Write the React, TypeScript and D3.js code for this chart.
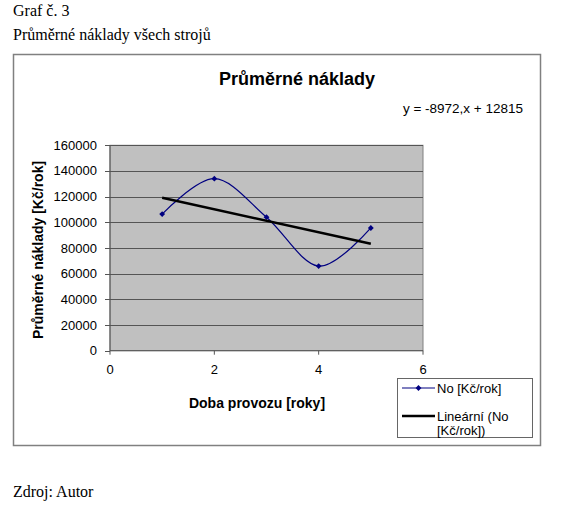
import * as React from 'react'
import * as d3 from 'd3'

// data
const years = [1, 2, 3, 4, 5];
const costs = [106400, 134000, 104000, 65900, 95600];
const yTicks = [0, 20000, 40000, 60000, 80000, 100000, 120000, 140000, 160000];
const xTicks = [0, 2, 4, 6];
const equationLabel = 'y = -8972,x + 12815';
const seriesName = 'No [Kč/rok]';
const trendNameLines = ['Lineární (No', '[Kč/rok])'];

const SANS = '"Liberation Sans", Arial, sans-serif';
const SERIF = '"Liberation Serif", "Times New Roman", serif';

const plot = { left: 110, right: 423, top: 145.3, bottom: 350.7 };

const App: React.FC = () => {
  const x = d3.scaleLinear().domain([0, 6]).range([plot.left, plot.right]);
  const y = d3.scaleLinear().domain([0, 160000]).range([plot.bottom, plot.top]);

  const pts: [number, number][] = years.map((yr, i) => [yr, costs[i]]);

  const line = d3.line<[number, number]>()
    .x(d => x(d[0]))
    .y(d => y(d[1]))
    .curve(d3.curveCardinal.tension(0));

  // least squares trend line
  const mx = d3.mean(years) as number;
  const my = d3.mean(costs) as number;
  const slope = d3.sum(years, (v, i) => (v - mx) * (costs[i] - my)) /
    d3.sum(years, v => (v - mx) * (v - mx));
  const icpt = my - slope * mx;
  const trendX = d3.extent(years) as [number, number];
  const trend: [number, number][] = trendX.map(v => [v, icpt + slope * v]);
  const trendLine = d3.line<[number, number]>()
    .x(d => x(d[0]))
    .y(d => y(d[1]));

  const diamond = d3.symbol().type(d3.symbolSquare).size(17)();

  return (
    <svg width={563} height={508} style={{ position: 'absolute', left: 0, top: 0 }}>
      <rect width={563} height={508} fill="#fff" />
      <text x={13} y={16} fontFamily={SERIF} fontSize={16}>Graf č. 3</text>
      <text x={13} y={40} fontFamily={SERIF} fontSize={16}>Průměrné náklady všech strojů</text>
      <text x={13} y={497} fontFamily={SERIF} fontSize={16}>Zdroj: Autor</text>

      {/* chart frame */}
      <rect x={13.5} y={54.5} width={527} height={391} fill="#fff" stroke="#808080" strokeWidth={1.5} />

      <text x={297} y={85} textAnchor="middle" fontFamily={SANS} fontSize={18} fontWeight="bold">
        Průměrné náklady
      </text>
      <text x={523} y={113} textAnchor="end" fontFamily={SANS} fontSize={13.5}>{equationLabel}</text>

      {/* plot area */}
      <rect x={plot.left} y={plot.top} width={plot.right - plot.left} height={plot.bottom - plot.top}
        fill="#c0c0c0" stroke="#808080" strokeWidth={1} />
      {yTicks.slice(1).map(t => (
        <line key={t} x1={plot.left} x2={plot.right} y1={Math.round(y(t)) + 0.5} y2={Math.round(y(t)) + 0.5}
          stroke="#555" strokeWidth={1} />
      ))}

      {/* axes */}
      <line x1={plot.left} x2={plot.left} y1={plot.top} y2={plot.bottom} stroke="#555" />
      <line x1={plot.left} x2={plot.right} y1={plot.bottom} y2={plot.bottom} stroke="#555" />
      {yTicks.map(t => (
        <g key={t}>
          <line x1={plot.left - 5} x2={plot.left} y1={Math.round(y(t)) + 0.5} y2={Math.round(y(t)) + 0.5} stroke="#555" />
          <text x={97} y={y(t) + 4.5} textAnchor="end" fontFamily={SANS} fontSize={13}>{t}</text>
        </g>
      ))}
      {xTicks.map(t => (
        <g key={t}>
          <line x1={x(t)} x2={x(t)} y1={plot.bottom} y2={plot.bottom + 4} stroke="#555" />
          <text x={x(t)} y={374} textAnchor="middle" fontFamily={SANS} fontSize={13}>{t}</text>
        </g>
      ))}

      <text transform="translate(43,250) rotate(-90)" textAnchor="middle" fontFamily={SANS} fontSize={14} fontWeight="bold">
        Průměrné náklady [Kč/rok]
      </text>
      <text x={257} y={408} textAnchor="middle" fontFamily={SANS} fontSize={14} fontWeight="bold">
        Doba provozu [roky]
      </text>

      {/* series */}
      <path d={line(pts) ?? ''} fill="none" stroke="#000080" strokeWidth={1.2} />
      {pts.map((d, i) => (
        <path key={i} d={diamond ?? ''} transform={`translate(${x(d[0])},${y(d[1])}) rotate(45)`} fill="#000080" />
      ))}
      <path d={trendLine(trend) ?? ''} fill="none" stroke="#000" strokeWidth={2.5} />

      {/* legend */}
      <rect x={397.5} y={378.5} width={135} height={59} fill="#fff" stroke="#666" strokeWidth={1} />
      <line x1={402} x2={435} y1={388} y2={388} stroke="#000080" strokeWidth={1.2} />
      <path d={diamond ?? ''} transform="translate(418.5,388) rotate(45)" fill="#000080" />
      <text x={437} y={392.5} fontFamily={SANS} fontSize={13}>{seriesName}</text>
      <line x1={402} x2={435} y1={416} y2={416} stroke="#000" strokeWidth={2.5} />
      {trendNameLines.map((s, i) => (
        <text key={i} x={437} y={420.5 + i * 14} fontFamily={SANS} fontSize={13}>{s}</text>
      ))}
    </svg>
  );
};

export default App;
